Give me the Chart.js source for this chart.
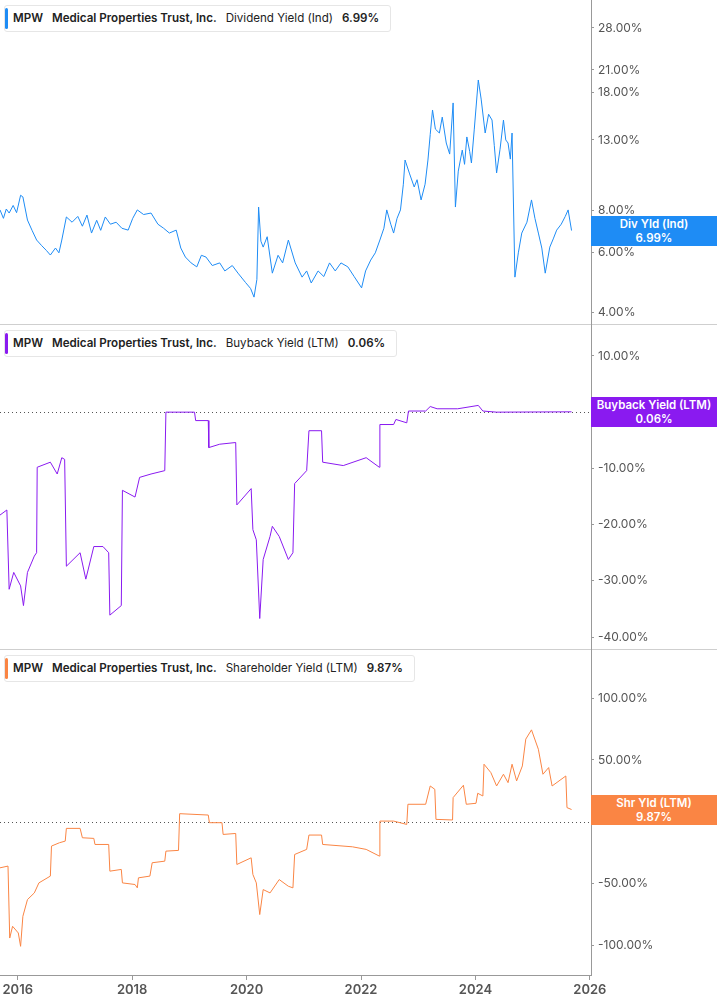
<!DOCTYPE html>
<html>
<head>
<meta charset="utf-8">
<script src="https://cdn.jsdelivr.net/npm/chart.js@4/dist/chart.umd.min.js"></script>
<style>
  body { margin: 0; background: #fff; font-family: Inter, "Noto Sans", sans-serif; }
  .panel { position: relative; width: 717px; height: 325px; border-bottom: 1px solid #cfcfcf; box-sizing: border-box; }
  .panel.last { height: 355px; border-bottom: none; }
  .wrap { position: absolute; left: 0; top: 0; width: 717px; height: 325px; }
  .last .wrap { height: 355px; }
  .legend { position: absolute; left: 4px; top: 5px; height: 25px; background: #fff; border: 1px solid #e6e6e6;
    border-radius: 3px; font-size: 11.6px; color: #222; line-height: 25px; padding: 0 11px 0 8px; white-space: nowrap; z-index: 2; }
  .legend .bar { position: absolute; left: 0; top: 2px; bottom: 2px; width: 3px; border-radius: 2px; }
  .legend b { font-weight: 600; margin-right: 9px; }
  .legend span { margin-right: 9px; }
  .badge { position: absolute; left: 591px; width: 126px; height: 30px; color: #fff; font-size: 11.5px; font-weight: 600;
    text-align: center; line-height: 14px; padding-top: 1px; box-sizing: border-box; z-index: 2; }
</style>
</head>
<body>
<div class="panel" id="p1"><div class="wrap"><canvas id="c1"></canvas></div>
  <div class="legend"><div class="bar" style="background:#1e8cf5"></div><b>MPW</b><b>Medical Properties Trust, Inc.</b><span>Dividend Yield (Ind)</span><b style="margin-right:0">6.99%</b></div>
  <div class="badge" id="b1" style="background:#1e8cf5">Div Yld (Ind)<br>6.99%</div>
</div>
<div class="panel" id="p2"><div class="wrap"><canvas id="c2"></canvas></div>
  <div class="legend"><div class="bar" style="background:#8a1af0"></div><b>MPW</b><b>Medical Properties Trust, Inc.</b><span>Buyback Yield (LTM)</span><b style="margin-right:0">0.06%</b></div>
  <div class="badge" id="b2" style="background:#8a1af0">Buyback Yield (LTM)<br>0.06%</div>
</div>
<div class="panel last" id="p3"><div class="wrap"><canvas id="c3"></canvas></div>
  <div class="legend"><div class="bar" style="background:#fa8544"></div><b>MPW</b><b>Medical Properties Trust, Inc.</b><span>Shareholder Yield (LTM)</span><b style="margin-right:0">9.87%</b></div>
  <div class="badge" id="b3" style="background:#fa8544">Shr Yld (LTM)<br>9.87%</div>
</div>
<script>
// [decimal year, %]
const divYield = [
  [2015.69,8.05],[2015.75,7.6],[2015.80,8.1],[2015.85,7.88],[2015.92,8.3],[2015.98,7.9],[2016.05,8.9],[2016.09,8.8],[2016.17,7.51],
  [2016.25,7.0],[2016.33,6.55],[2016.42,6.3],[2016.50,6.1],[2016.57,5.91],[2016.66,6.2],[2016.72,6.0],[2016.77,6.55],[2016.85,7.67],
  [2016.95,7.4],[2017.05,7.7],[2017.13,7.2],[2017.21,7.77],[2017.29,6.87],[2017.38,7.5],[2017.45,7.0],[2017.53,7.67],[2017.62,7.3],
  [2017.72,7.4],[2017.82,7.1],[2017.93,7.01],[2018.01,7.6],[2018.09,8.05],[2018.20,7.8],[2018.33,7.88],[2018.45,7.3],[2018.55,7.1],
  [2018.65,6.87],[2018.77,7.01],[2018.85,6.2],[2018.93,5.83],[2019.03,5.6],[2019.13,5.45],[2019.21,5.9],[2019.29,5.83],[2019.40,5.5],
  [2019.53,5.6],[2019.62,5.3],[2019.75,5.5],[2019.85,5.22],[2019.98,4.9],[2020.07,4.7],[2020.13,4.43],[2020.18,5.0],[2020.21,8.21],
  [2020.25,6.5],[2020.29,6.24],[2020.36,6.7],[2020.45,5.22],[2020.55,5.9],[2020.63,5.6],[2020.73,6.55],[2020.85,5.6],[2020.97,5.08],
  [2021.05,5.3],[2021.13,4.88],[2021.25,5.3],[2021.35,5.1],[2021.45,5.6],[2021.55,5.3],[2021.65,5.6],[2021.77,5.45],[2021.88,5.1],
  [2022.01,4.72],[2022.08,5.3],[2022.17,5.71],[2022.25,6.0],[2022.33,6.55],[2022.40,7.1],[2022.45,8.05],[2022.52,7.3],[2022.57,6.87],
  [2022.63,7.6],[2022.69,8.05],[2022.74,9.6],[2022.77,11.33],[2022.85,10.3],[2022.93,9.42],[2022.98,9.9],[2023.05,8.62],[2023.12,9.6],
  [2023.17,11.33],[2023.21,13.5],[2023.25,15.96],[2023.30,14.0],[2023.37,13.63],[2023.42,15.2],[2023.49,12.73],[2023.55,11.8],
  [2023.61,16.75],[2023.65,8.21],[2023.70,10.5],[2023.77,12.13],[2023.81,11.0],[2023.85,13.27],[2023.90,12.0],[2023.93,11.1],
  [2023.98,14.0],[2024.05,19.6],[2024.10,17.2],[2024.17,13.63],[2024.23,15.5],[2024.29,14.9],[2024.33,12.5],[2024.37,10.37],
  [2024.43,12.2],[2024.49,14.9],[2024.53,13.0],[2024.57,12.73],[2024.61,11.4],[2024.64,13.63],[2024.69,5.08],[2024.75,6.0],
  [2024.81,6.87],[2024.90,7.4],[2024.98,8.62],[2025.04,7.6],[2025.10,6.87],[2025.16,6.2],[2025.22,5.22],[2025.30,6.24],[2025.36,6.6],
  [2025.42,7.01],[2025.50,7.3],[2025.57,7.7],[2025.62,8.05],[2025.68,6.99]
];
const buybackYield = [
  [2015.69,-18.3],[2015.81,-17.4],[2015.85,-31.5],[2015.93,-28.5],[2016.05,-30.9],[2016.10,-34.4],[2016.17,-28.5],[2016.29,-25.6],
  [2016.33,-25.0],[2016.34,-9.8],[2016.57,-8.9],[2016.69,-11.0],[2016.77,-8.1],[2016.82,-8.4],[2016.85,-27.4],[2017.09,-25.0],
  [2017.19,-29.7],[2017.33,-23.9],[2017.49,-23.9],[2017.59,-25.0],[2017.61,-36.1],[2017.81,-34.4],[2017.83,-13.9],[2018.05,-15.1],
  [2018.13,-11.6],[2018.33,-11.0],[2018.57,-10.4],[2018.59,0],[2019.09,0],[2019.11,-1.5],[2019.33,-1.5],[2019.34,-6.3],
  [2019.53,-5.7],[2019.81,-5.4],[2019.83,-16.5],[2020.08,-13.6],[2020.11,-20.9],[2020.17,-22.7],[2020.23,-36.7],[2020.29,-26.2],
  [2020.41,-22.1],[2020.45,-20.3],[2020.57,-22.1],[2020.73,-26.2],[2020.81,-25.0],[2020.84,-12.7],[2021.05,-10.4],[2021.09,-3.3],
  [2021.31,-3.3],[2021.33,-8.9],[2021.69,-9.5],[2022.09,-8.1],[2022.32,-9.8],[2022.33,-2.2],[2022.57,-2.2],[2022.61,-1.3],
  [2022.80,-1.9],[2022.83,0.2],[2023.13,0.2],[2023.21,1.0],[2023.33,0.6],[2023.69,0.6],[2024.05,1.2],[2024.13,0.2],
  [2024.37,0],[2025.68,0.06]
];
const shareholderYield = [
  [2015.69,-37.3],[2015.83,-35.9],[2015.86,-94.1],[2015.91,-84.6],[2016.01,-90],[2016.05,-100.8],[2016.09,-76.5],[2016.17,-63],
  [2016.29,-57.6],[2016.37,-49.5],[2016.57,-44],[2016.59,-19.7],[2016.73,-17],[2016.83,-15.7],[2016.85,-5.4],[2017.09,-5.4],
  [2017.13,-13],[2017.33,-13.5],[2017.35,-18.4],[2017.59,-18.4],[2017.61,-40],[2017.81,-38.6],[2017.83,-49.5],[2018.05,-50.8],
  [2018.09,-53.5],[2018.11,-45.4],[2018.31,-44],[2018.35,-33.2],[2018.57,-31.9],[2018.59,-23.8],[2018.81,-23.2],[2018.83,6.5],
  [2019.33,5.4],[2019.35,-0.8],[2019.57,-0.8],[2019.59,-10.3],[2019.81,-9.5],[2019.83,-34.6],[2020.08,-29.2],[2020.11,-42.7],
  [2020.17,-49.5],[2020.23,-75.1],[2020.29,-54.9],[2020.41,-57.6],[2020.57,-46.8],[2020.73,-52.2],[2020.81,-53.5],[2020.84,-26.5],
  [2021.05,-22.4],[2021.09,-10.8],[2021.31,-10.8],[2021.33,-18.4],[2021.85,-20.3],[2022.09,-22.4],[2022.32,-27.8],[2022.33,0.5],
  [2022.57,0.5],[2022.80,-2.2],[2022.82,14.1],[2023.13,14.1],[2023.21,28.9],[2023.29,26.2],[2023.31,1.9],[2023.60,1.4],
  [2023.61,19.5],[2023.79,29.5],[2023.84,14.1],[2024.01,14.9],[2024.04,23],[2024.13,20.8],[2024.15,46.5],[2024.27,39.7],
  [2024.37,28.9],[2024.49,38.4],[2024.57,31.6],[2024.64,46.5],[2024.72,33],[2024.82,45.1],[2024.88,66.8],[2024.98,74.3],
  [2025.10,58.6],[2025.18,38.4],[2025.28,43.8],[2025.34,28.9],[2025.58,37],[2025.60,11.4],[2025.68,9.87]
];
const divTicks = [4, 6, 8, 13, 18, 21, 28];
const buybackTicks = [10, 0, -10, -20, -30, -40];
const shrTicks = [100, 50, 0, -50, -100];
const yearTicks = [2016, 2018, 2020, 2022, 2024, 2026];

const zeroLine = {
  id: 'zeroLine',
  beforeDatasetsDraw(chart, args, opts) {
    if (!opts.on) return;
    const y = chart.scales.y.getPixelForValue(0), a = chart.chartArea, c = chart.ctx;
    c.save(); c.strokeStyle = '#555'; c.lineWidth = 1; c.setLineDash([1, 3]);
    c.beginPath(); c.moveTo(a.left, Math.round(y) + 0.5); c.lineTo(a.right, Math.round(y) + 0.5); c.stroke(); c.restore();
  }
};
const badgePos = {
  id: 'badgePos',
  afterDraw(chart, args, opts) {
    const data = chart.data.datasets[0].data;
    const y = chart.scales.y.getPixelForValue(data[data.length - 1].y);
    document.getElementById(opts.el).style.top = (y - 15) + 'px';
  }
};

function makeChart(id, data, color, yType, yMin, yMax, ticks, showX, badge, zero) {
  return new Chart(document.getElementById(id), {
    type: 'line',
    data: { datasets: [{ data: data.map(p => ({ x: p[0], y: p[1] })), borderColor: color, borderWidth: 1, pointRadius: 0, tension: 0 }] },
    options: {
      responsive: true, maintainAspectRatio: false, animation: false,
      layout: { padding: 0 },
      plugins: { legend: { display: false }, tooltip: { enabled: false }, zeroLine: { on: zero }, badgePos: { el: badge } },
      scales: {
        x: {
          type: 'linear', min: 2015.69, max: 2026.02, display: showX,
          afterBuildTicks: s => { s.ticks = yearTicks.map(v => ({ value: v })); },
          afterFit: s => { s.height = showX ? 30 : 0; s.paddingLeft = 0; s.paddingRight = 0; },
          grid: { drawOnChartArea: false, tickLength: 5, color: '#999' },
          border: { color: '#999' },
          ticks: { color: '#555', font: { size: 13, weight: '600', family: 'Inter' }, padding: 2, callback: v => String(v) }
        },
        y: {
          type: yType, position: 'right', min: yMin, max: yMax,
          afterBuildTicks: s => { s.ticks = ticks.map(v => ({ value: v })); },
          afterFit: s => { s.width = 126; s.paddingTop = 0; s.paddingBottom = 0; },
          grid: { drawOnChartArea: false, tickLength: 3, color: '#999' },
          border: { color: '#999' },
          ticks: { color: '#555', font: { size: 12, family: 'Inter' }, padding: 4, callback: v => v.toFixed(2) + '%' }
        }
      }
    },
    plugins: [zeroLine, badgePos]
  });
}

makeChart('c1', divYield, '#1e8cf5', 'logarithmic', 3.66, 33.9, divTicks, false, 'b1', false);
makeChart('c2', buybackYield, '#8a1af0', 'linear', -42.3, 15.5, buybackTicks, false, 'b2', true);
makeChart('c3', shareholderYield, '#fa8544', 'linear', -124, 138.9, shrTicks, true, 'b3', true);
</script>
</body>
</html>
